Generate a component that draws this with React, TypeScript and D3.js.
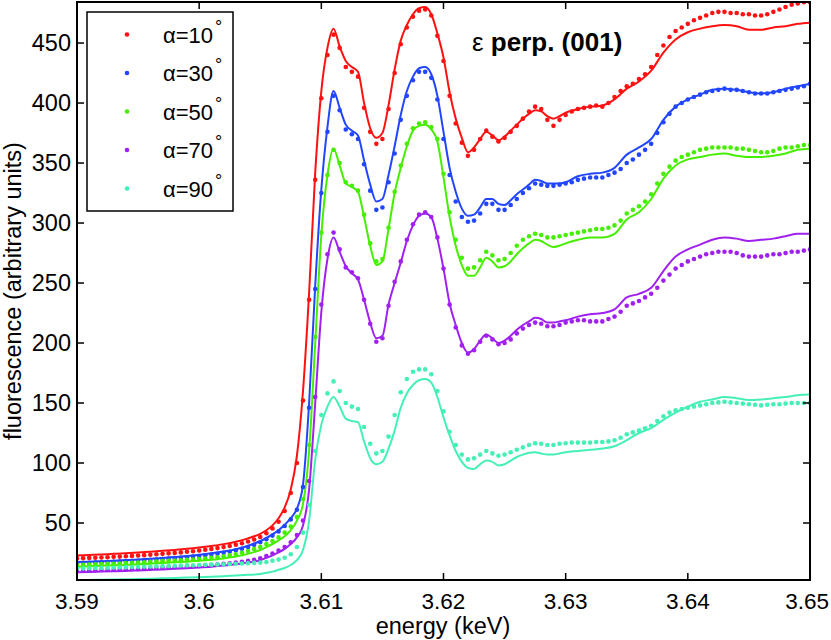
import React from 'react';
import * as d3 from 'd3';

// ---------- DATA ----------
// energies of the fitted curves (keV)
const energyFit = [
  3.590, 3.591, 3.592, 3.593, 3.594, 3.595, 3.596, 3.597, 3.598, 3.599, 3.600, 3.601, 3.602, 3.603, 3.604, 3.605,
  3.6055, 3.606, 3.6065, 3.607, 3.6075, 3.608, 3.6085, 3.609, 3.6095, 3.610,
  3.6105, 3.611, 3.6115, 3.612, 3.6125, 3.613, 3.6135, 3.614, 3.6145, 3.615,
  3.6155, 3.616, 3.6165, 3.617, 3.6175, 3.618, 3.6185, 3.619, 3.6195, 3.620,
  3.6205, 3.621, 3.6215, 3.622, 3.6225, 3.623, 3.6235, 3.624, 3.6245, 3.625,
  3.6255, 3.626, 3.6265, 3.627, 3.6275, 3.628, 3.6285, 3.629, 3.6295, 3.630,
  3.631, 3.632, 3.633, 3.634, 3.635, 3.636, 3.637, 3.638, 3.639, 3.640,
  3.641, 3.642, 3.643, 3.644, 3.645, 3.646, 3.647, 3.648, 3.649, 3.650,
];

// energies of the measured points (keV)
const energyMeas = [
  3.5900, 3.5905, 3.5910, 3.5915, 3.5920, 3.5925, 3.5930, 3.5935, 3.5940, 3.5945,
  3.5950, 3.5955, 3.5960, 3.5965, 3.5970, 3.5975, 3.5980, 3.5985, 3.5990, 3.5995,
  3.6000, 3.6005, 3.6010, 3.6015, 3.6020, 3.6025, 3.6030, 3.6035, 3.6040, 3.6045,
  3.6050,
  3.6055, 3.6060, 3.6065, 3.6070, 3.6075, 3.6080, 3.6085, 3.6090, 3.6095, 3.6100,
  3.6105, 3.6110, 3.6115, 3.6120, 3.6125, 3.6130, 3.6135, 3.6140, 3.6145, 3.6150,
  3.6155, 3.6160, 3.6165, 3.6170, 3.6175, 3.6180, 3.6185, 3.6190, 3.6195, 3.6200,
  3.6205, 3.6210, 3.6215, 3.6220, 3.6225, 3.6230, 3.6235, 3.6240, 3.6245, 3.6250,
  3.6255, 3.6260, 3.6265, 3.6270, 3.6275, 3.6280, 3.6285, 3.6290, 3.6295, 3.6300,
  3.6305, 3.6310, 3.6315, 3.6320, 3.6325, 3.6330, 3.6335, 3.6340, 3.6345, 3.6350,
  3.6355, 3.6360, 3.6365, 3.6370, 3.6375, 3.6380, 3.6385, 3.6390, 3.6395, 3.6400,
  3.6405, 3.6410, 3.6415, 3.6420, 3.6425, 3.6430, 3.6435, 3.6440, 3.6445, 3.6450,
  3.6455, 3.6460, 3.6465, 3.6470, 3.6475, 3.6480, 3.6485, 3.6490, 3.6495, 3.6500,
];

// alpha = 10 deg
const fit10 = [
  23, 23.4, 23.8, 24.3, 24.8, 25.4, 26.1, 26.8, 27.6, 28.5, 29.6, 30.9, 32.4, 34.4, 37.2, 41,
  44, 48, 54, 63, 78, 106, 160, 242, 342, 410, 446, 462, 447, 435, 430, 426, 400, 379, 371, 375,
  398, 428, 452, 465, 474, 479, 480, 474, 458, 438, 409, 387, 371, 359, 363, 370, 376, 373, 369, 372,
  377, 382, 387, 391, 394, 393, 389, 387, 389, 392,
  395, 397, 398, 403, 412, 418, 427, 442, 453, 459, 462, 464, 465, 464, 461, 461, 463, 464, 466, 467,
];
const meas10 = [
  20.5, 20.7, 20.9, 21.1, 21.3, 21.5, 21.8, 22.0, 22.3, 22.6, 22.9, 23.2, 23.6, 23.9, 24.3, 24.7,
  25.1, 25.5, 26.0, 26.5, 27.1, 27.7, 28.4, 29.1, 29.9, 30.8, 31.9, 33.1, 34.6, 36.3, 38.3,
  41.5, 45.5, 51, 60, 75, 100, 152, 236, 336, 404, 440, 457, 446, 430, 426, 422, 396, 376, 366, 370,
  395, 425, 449, 463, 472, 477, 478, 473, 456, 435, 406, 383, 367, 356, 361, 370, 377, 372, 368, 371,
  376, 381, 387, 393, 397, 395, 386, 381, 386, 390,
  393, 395, 396, 397, 398, 397, 400, 405, 410, 414, 416, 420, 424, 430, 440, 448, 455, 460, 463, 466,
  469, 471, 473, 475, 476, 476, 475, 475, 474, 474, 473, 473, 474, 476, 478, 480, 482, 483, 484, 484,
];

// alpha = 30 deg
const fit30 = [
  17.5, 17.8, 18.2, 18.6, 19.1, 19.6, 20.2, 20.9, 21.7, 22.5, 23.5, 24.7, 26.2, 28.2, 31, 35,
  37.5, 40.5, 44, 48.5, 54, 62, 82, 150, 248, 328, 380, 410, 396, 382, 377, 373, 352, 332, 318, 320,
  340, 364, 390, 410, 422, 429, 430, 424, 406, 376, 346, 326, 312, 306, 307, 313, 320, 320, 316, 315,
  319, 324, 328, 332, 336, 335, 333, 333, 333, 334,
  339, 341, 342, 346, 357, 363, 370, 386, 397, 403, 407, 411, 412, 411, 409, 408, 409, 412, 414, 416,
];
const meas30 = [
  16.5, 16.6, 16.8, 17.0, 17.2, 17.4, 17.6, 17.8, 18.1, 18.3, 18.6, 18.9, 19.2, 19.5, 19.9, 20.3,
  20.7, 21.1, 21.5, 22.0, 22.5, 23.1, 23.7, 24.4, 25.2, 26.1, 27.2, 28.5, 30.0, 31.8, 34.0,
  36.5, 39.5, 43, 47.5, 53, 61, 80, 146, 245, 325, 376, 406, 394, 378, 374, 370, 349, 327, 311, 313,
  334, 358, 386, 406, 419, 426, 426, 421, 403, 370, 340, 318, 305, 301, 302, 308, 316, 316, 311, 311,
  315, 320, 325, 329, 333, 332, 331, 331, 332, 333,
  334, 336, 337, 338, 338, 338, 340, 342, 345, 350, 353, 357, 361, 366, 375, 384, 391, 397, 400, 403,
  405, 407, 409, 410, 411, 412, 411, 411, 410, 409, 408, 408, 408, 409, 410, 411, 412, 413, 414, 416,
];

// alpha = 50 deg
const fit50 = [
  13.6, 13.9, 14.3, 14.7, 15.1, 15.6, 16.1, 16.6, 17.2, 17.8, 18.5, 19.4, 20.5, 22, 24.3, 27.5,
  30, 32.5, 35.5, 39, 44, 52, 66, 110, 200, 290, 340, 362, 348, 333, 330, 326, 305, 281, 265, 268,
  295, 325, 346, 364, 377, 381, 382, 378, 368, 338, 305, 281, 265, 256, 256, 263, 271, 268, 263, 264,
  268, 274, 279, 283, 286, 285, 282, 280, 281, 283,
  286, 288, 288, 291, 303, 309, 320, 337, 348, 353, 355, 357, 358, 356, 355, 355, 356, 358, 361, 362,
];
const meas50 = [
  15.0, 15.1, 15.3, 15.5, 15.7, 15.9, 16.1, 16.3, 16.6, 16.8, 17.1, 17.3, 17.6, 17.9, 18.2, 18.5,
  18.8, 19.0, 19.3, 19.6, 19.9, 20.4, 20.9, 21.5, 22.2, 23.0, 24.0, 25.2, 26.6, 28.2, 30.0,
  32.5, 35, 38, 42, 47, 55, 70, 115, 205, 292, 340, 361, 350, 334, 331, 327, 307, 283, 268, 270,
  296, 326, 348, 366, 379, 383, 384, 380, 370, 341, 309, 286, 271, 262, 263, 269, 276, 273, 269, 270,
  275, 281, 286, 289, 291, 290, 288, 288, 289, 290,
  291, 292, 293, 294, 295, 295, 296, 298, 302, 308, 311, 314, 318, 324, 333, 341, 347, 352, 355, 357,
  359, 361, 362, 363, 363, 363, 363, 362, 362, 361, 360, 359, 359, 360, 362, 363, 363, 364, 365, 365,
];

// alpha = 70 deg
const fit70 = [
  9, 9.2, 9.5, 9.8, 10.1, 10.5, 10.9, 11.3, 11.8, 12.3, 12.9, 13.6, 14.5, 15.6, 17.1, 19,
  21, 23, 25.5, 28.5, 32.5, 38, 48, 78, 150, 226, 270, 288, 276, 264, 258, 253, 236, 217, 204, 206,
  232, 250, 267, 285, 298, 306, 308, 305, 287, 262, 233, 215, 200, 192, 195, 202, 207, 204, 200, 202,
  206, 211, 215, 218, 221, 220, 217, 217, 218, 219,
  222, 224, 225, 228, 238, 241, 246, 260, 272, 278, 282, 286, 288, 287, 285, 286, 287, 289, 291, 291,
];
const meas70 = [
  10.3, 10.4, 10.5, 10.6, 10.8, 10.9, 11.1, 11.2, 11.4, 11.6, 11.8, 12.0, 12.2, 12.4, 12.7, 12.9,
  13.2, 13.4, 13.7, 13.9, 14.2, 14.6, 15.0, 15.4, 15.9, 16.4, 17.0, 17.7, 18.5, 19.4, 20.5,
  22.5, 24.5, 27, 30, 34, 40, 52, 85, 155, 232, 274, 292, 278, 263, 259, 254, 236, 216, 201, 204,
  231, 251, 268, 286, 299, 307, 309, 305, 288, 262, 232, 213, 198, 191, 194, 201, 206, 203, 199, 200,
  203, 208, 212, 215, 217, 216, 214, 214, 215, 217,
  218, 219, 219, 218, 218, 218, 220, 222, 226, 231, 233, 235, 238, 241, 246, 252, 257, 262, 265, 268,
  270, 272, 274, 275, 276, 276, 276, 275, 273, 272, 272, 272, 273, 274, 274, 275, 276, 276, 277, 278,
];

// alpha = 90 deg
const fit90 = [
  2.5, 2.6, 2.7, 2.9, 3.1, 3.3, 3.6, 3.9, 4.2, 4.5, 4.8, 5.2, 5.7, 6.2, 6.8, 7.5,
  8.5, 9.5, 11, 12.5, 15, 19, 27.5, 52, 103, 132, 147, 155, 147, 137, 135, 134, 118, 104, 99, 101,
  112, 127, 146, 158, 165, 169, 170, 167, 155, 138, 123, 110, 101, 96, 95, 99, 102, 101, 98, 99,
  102, 105, 107, 108.5, 109, 108, 107, 107, 108, 109,
  110, 111, 112, 114, 119, 125, 129, 136, 142, 147, 151, 153, 155, 154, 152.5, 153, 154, 155, 156.5, 157,
];
const meas90 = [
  12.0, 12.15, 12.3, 12.45, 12.6, 12.75, 12.9, 13.05, 13.2, 13.35, 13.5, 13.65, 13.8, 13.95, 14.1, 14.25,
  14.4, 14.55, 14.7, 14.85, 15.0, 15.15, 15.3, 15.45, 15.6, 15.8, 16.0, 16.25, 16.5, 16.75, 17.0,
  17.5, 18.5, 19.5, 21, 24, 30, 42, 65, 110, 140, 158, 168, 160, 150, 147, 145, 130, 116, 108, 110,
  122, 140, 159, 170, 176, 178, 178, 174, 160, 143, 126, 115, 107, 103, 104, 107, 110, 108, 106, 107,
  109, 111, 113, 115, 116.5, 116, 115, 115, 116, 116.5,
  117, 117, 117, 117, 117.5, 117.5, 118, 119, 121, 124, 125.5, 127, 129, 131, 135, 139, 142, 144, 145, 146,
  147, 148, 149, 150, 150.5, 151, 150.5, 150, 149.5, 149, 148.5, 148, 148.5, 149, 149, 149.5, 150, 150, 150, 150,
];

const angles = ['10', '30', '50', '70', '90'];
const fits = [fit10, fit30, fit50, fit70, fit90];
const measured = [meas10, meas30, meas50, meas70, meas90];
const colors = ['#ff1111', '#2246ff', '#46ee00', '#a020f0', '#44f0b4'];

const xTicks = [3.59, 3.6, 3.61, 3.62, 3.63, 3.64, 3.65];
const xTickLabels = ['3.59', '3.6', '3.61', '3.62', '3.63', '3.64', '3.65'];
const yTicks = [50, 100, 150, 200, 250, 300, 350, 400, 450];
const yTickLabels = ['50', '100', '150', '200', '250', '300', '350', '400', '450'];

// ---------- CHART ----------
const W = 831;
const H = 640;
const L = 77, R = 810, T = 2, B = 580;
const FONT = '"Liberation Sans", Arial, Helvetica, sans-serif';
const FS = 23.5;

export default function App() {
  const x = d3.scaleLinear().domain([3.59, 3.65]).range([L, R]);
  const y = d3.scaleLinear().domain([2.5, 484.2]).range([B, T]);
  const lineGen = d3
    .line<number>()
    .x((_, i) => x(energyFit[i]))
    .y((d) => y(d))
    .curve(d3.curveMonotoneX);

  const tickLen = 7;

  return (
    <svg
      width={W}
      height={H}
      viewBox={`0 0 ${W} ${H}`}
      style={{ position: 'absolute', left: 0, top: 0, background: '#fff' }}
      fontFamily={FONT}
    >
      <defs>
        <clipPath id="plotClip">
          <rect x={L} y={T} width={R - L} height={B - T} />
        </clipPath>
      </defs>
      <rect x={0} y={0} width={W} height={H} fill="#fff" />

      <g clipPath="url(#plotClip)">
        {fits.map((f, s) => (
          <path key={'l' + s} d={lineGen(f) || ''} fill="none" stroke={colors[s]} strokeWidth={2} />
        ))}
        {measured.map((m, s) => (
          <g key={'d' + s} fill={colors[s]}>
            {m.map((v, i) => (
              <circle key={i} cx={x(energyMeas[i])} cy={y(v)} r={2.3} />
            ))}
          </g>
        ))}
      </g>

      {/* frame */}
      <rect x={L} y={T} width={R - L} height={B - T} fill="none" stroke="#000" strokeWidth={2} />

      {/* x ticks */}
      {xTicks.map((t, i) => {
        const last = i === xTicks.length - 1;
        return (
          <g key={'xt' + i}>
            <line x1={x(t)} x2={x(t)} y1={B} y2={B - tickLen} stroke="#000" strokeWidth={1.5} />
            <line x1={x(t)} x2={x(t)} y1={T} y2={T + tickLen} stroke="#000" strokeWidth={1.5} />
            <text
              x={last ? W - 2 : x(t)}
              y={609}
              fontSize={22.5}
              textAnchor={last ? 'end' : 'middle'}
              fill="#000"
            >
              {xTickLabels[i]}
            </text>
          </g>
        );
      })}

      {/* y ticks */}
      {yTicks.map((t, i) => (
        <g key={'yt' + i}>
          <line x1={L} x2={L + tickLen} y1={y(t)} y2={y(t)} stroke="#000" strokeWidth={1.5} />
          <line x1={R} x2={R - tickLen} y1={y(t)} y2={y(t)} stroke="#000" strokeWidth={1.5} />
          <text x={71} y={y(t) + 8.4} fontSize={FS} textAnchor="end" fill="#000">
            {yTickLabels[i]}
          </text>
        </g>
      ))}

      {/* axis labels */}
      <text x={443} y={634} fontSize={FS} textAnchor="middle" fill="#000">
        energy (keV)
      </text>
      <text
        transform={`translate(21, ${(T + B) / 2}) rotate(-90)`}
        fontSize={FS}
        textAnchor="middle"
        fill="#000"
      >
        fluorescence (arbitrary units)
      </text>

      {/* title */}
      <text x={472} y={51} fontSize={26} fill="#000">
        <tspan>ε</tspan>
        <tspan fontWeight="bold"> perp. (001)</tspan>
      </text>

      {/* legend */}
      <rect x={87} y={12} width={146} height={199} fill="#fff" stroke="#000" strokeWidth={1.5} />
      {angles.map((a, i) => {
        const cy = 34.5 + i * 38.5;
        return (
          <g key={'lg' + i}>
            <circle cx={127} cy={cy} r={2.3} fill={colors[i]} />
            <text x={163} y={cy + 8} fontSize={22} fill="#000">
              <tspan>α={a}</tspan>
              <tspan fontSize={18} dx={2} dy={-10}>°</tspan>
            </text>
          </g>
        );
      })}
    </svg>
  );
}
